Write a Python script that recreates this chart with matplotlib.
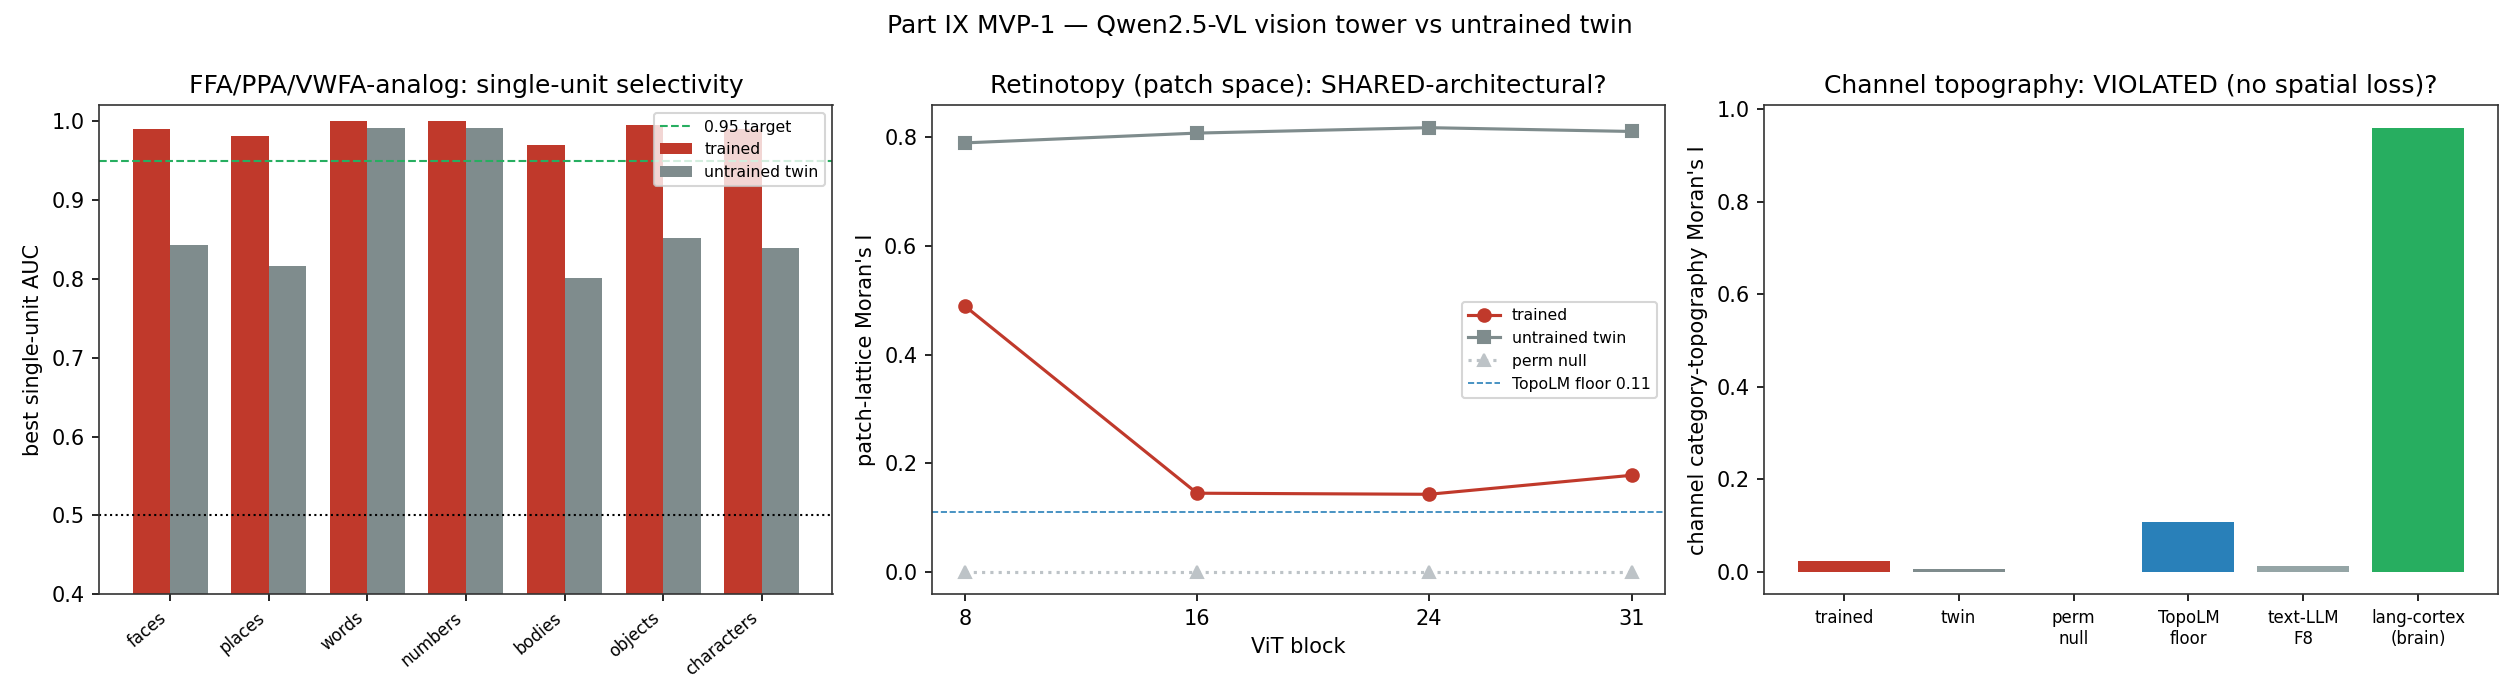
#!/usr/bin/env python3
"""Part IX MVP-1 summary figure: Qwen2.5-VL vision tower vs untrained twin."""

import numpy as np
import matplotlib
matplotlib.use("Agg")
import matplotlib.pyplot as plt
from matplotlib.ticker import MultipleLocator

RED = "#c0392b"
GRAY = "#7f8c8d"
LIGHT = "#bdc3c7"
GREEN = "#27ae60"
BLUE = "#2980b9"
SILVER = "#95a5a6"

# panel 1: single-unit selectivity
categories = ["faces", "places", "words", "numbers", "bodies", "objects", "characters"]
auc_trained = [0.990, 0.981, 1.000, 1.000, 0.970, 0.995, 0.990]
auc_twin = [0.843, 0.816, 0.992, 0.991, 0.801, 0.852, 0.839]

# panel 2: retinotopy across ViT blocks
blocks = [8, 16, 24, 31]
moran_trained = [0.489, 0.145, 0.143, 0.178]
moran_twin = [0.790, 0.808, 0.818, 0.811]
moran_perm = [0.0, 0.0, 0.0, 0.0]
topolm_floor = 0.11

# panel 3: channel topography
topo_labels = ["trained", "twin", "perm\nnull", "TopoLM\nfloor", "text-LLM\nF8", "lang-cortex\n(brain)"]
topo_values = [0.023, 0.006, 0.0, 0.109, 0.012, 0.960]
topo_colors = [RED, GRAY, LIGHT, BLUE, SILVER, GREEN]


def main():
    plt.rcParams["axes.edgecolor"] = "#333333"
    fig, axes = plt.subplots(1, 3, figsize=(16.8, 4.667))

    # 1. selectivity bars
    ax = axes[0]
    xi = np.arange(len(categories))
    w = 0.38
    ax.axhline(0.95, color=GREEN, ls="--", lw=1, label="0.95 target")
    ax.bar(xi - w / 2, auc_trained, w, color=RED, label="trained")
    ax.bar(xi + w / 2, auc_twin, w, color=GRAY, label="untrained twin")
    ax.axhline(0.5, color="k", ls=":", lw=1)
    ax.set_xticks(xi)
    ax.set_xticklabels(categories, rotation=40, ha="right", fontsize=8)
    ax.set_ylim(0.4, 1.02)
    ax.set_ylabel("best single-unit AUC")
    ax.set_title("FFA/PPA/VWFA-analog: single-unit selectivity")
    ax.legend(fontsize=7.5, loc="upper right")

    # 2. retinotopy
    ax = axes[1]
    ax.plot(blocks, moran_trained, "-o", color=RED, label="trained")
    ax.plot(blocks, moran_twin, "-s", color=GRAY, label="untrained twin")
    ax.plot(blocks, moran_perm, ":^", color=LIGHT, label="perm null")
    ax.axhline(topolm_floor, color=BLUE, ls="--", lw=0.8, label=f"TopoLM floor {topolm_floor}")
    ax.set_xticks(blocks)
    ax.yaxis.set_major_locator(MultipleLocator(0.2))
    ax.set_xlabel("ViT block")
    ax.set_ylabel("patch-lattice Moran's I")
    ax.set_title("Retinotopy (patch space): SHARED-architectural?")
    ax.legend(fontsize=7.5, loc="center right")

    # 3. channel topography
    ax = axes[2]
    ax.bar(np.arange(len(topo_labels)), topo_values, color=topo_colors)
    ax.set_xticks(np.arange(len(topo_labels)))
    ax.set_xticklabels(topo_labels, fontsize=8)
    top = max(topo_values)
    ax.set_ylim(-0.05 * top, 1.05 * top)
    ax.set_ylabel("channel category-topography Moran's I")
    ax.set_title("Channel topography: VIOLATED (no spatial loss)?")

    fig.suptitle("Part IX MVP-1 — Qwen2.5-VL vision tower vs untrained twin", fontsize=12)
    fig.tight_layout()
    fig.savefig("out.png", dpi=150)
    plt.close(fig)


if __name__ == "__main__":
    main()
